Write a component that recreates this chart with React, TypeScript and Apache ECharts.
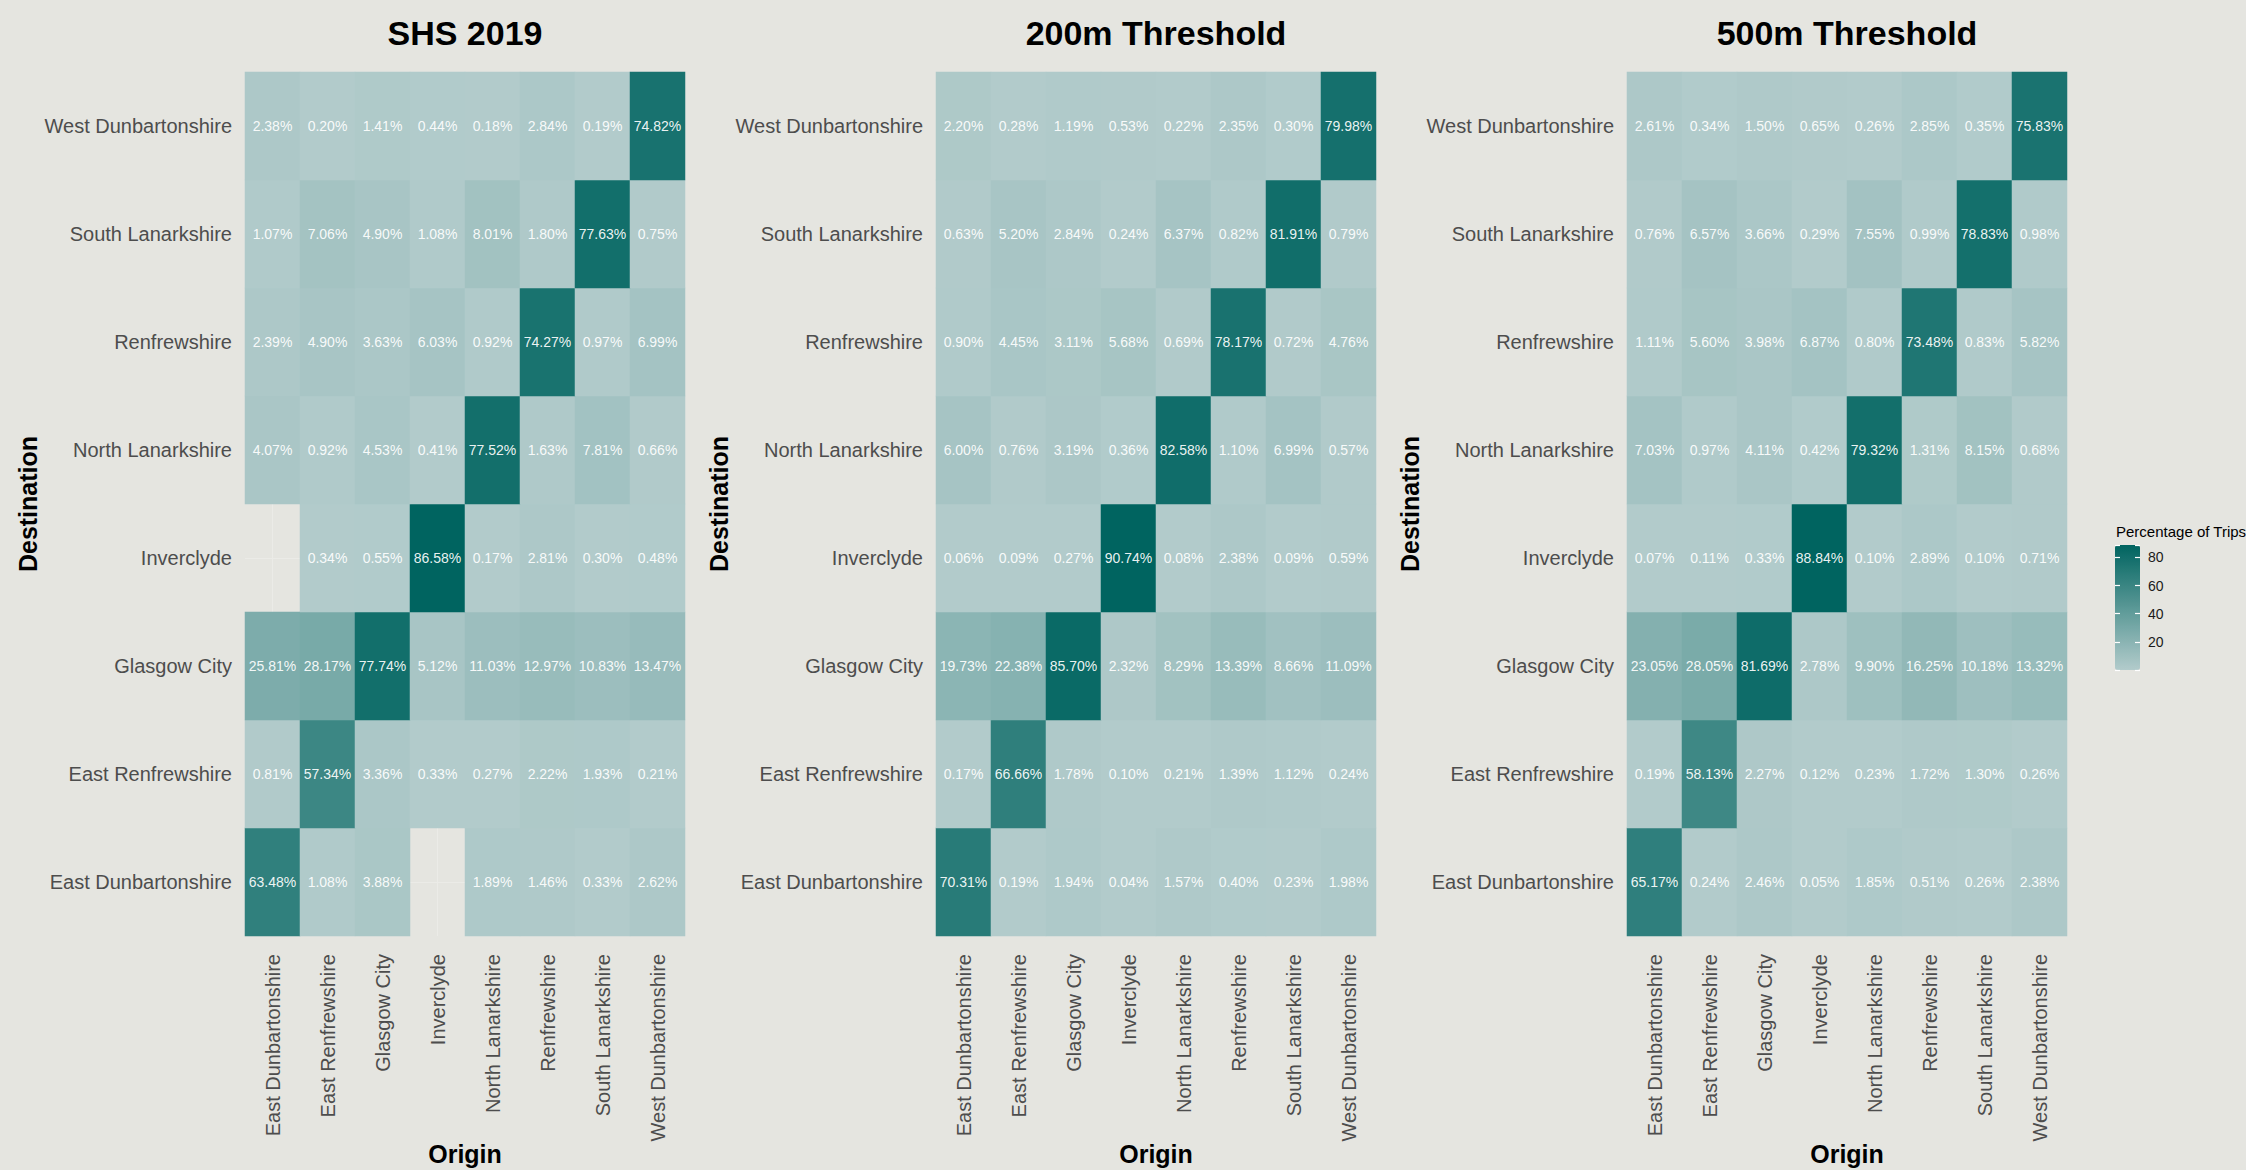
import React, { useEffect, useRef } from "react";
import * as echarts from "echarts";

const regions = [
  "East Dunbartonshire",
  "East Renfrewshire",
  "Glasgow City",
  "Inverclyde",
  "North Lanarkshire",
  "Renfrewshire",
  "South Lanarkshire",
  "West Dunbartonshire",
];

const panelTitles = ["SHS 2019", "200m Threshold", "500m Threshold"];

// rows = destination (bottom to top, same order as regions), columns = origin
const shs2019: (number | null)[][] = [
  [63.48, 1.08, 3.88, null, 1.89, 1.46, 0.33, 2.62],
  [0.81, 57.34, 3.36, 0.33, 0.27, 2.22, 1.93, 0.21],
  [25.81, 28.17, 77.74, 5.12, 11.03, 12.97, 10.83, 13.47],
  [null, 0.34, 0.55, 86.58, 0.17, 2.81, 0.3, 0.48],
  [4.07, 0.92, 4.53, 0.41, 77.52, 1.63, 7.81, 0.66],
  [2.39, 4.9, 3.63, 6.03, 0.92, 74.27, 0.97, 6.99],
  [1.07, 7.06, 4.9, 1.08, 8.01, 1.8, 77.63, 0.75],
  [2.38, 0.2, 1.41, 0.44, 0.18, 2.84, 0.19, 74.82],
];

const threshold200: (number | null)[][] = [
  [70.31, 0.19, 1.94, 0.04, 1.57, 0.4, 0.23, 1.98],
  [0.17, 66.66, 1.78, 0.1, 0.21, 1.39, 1.12, 0.24],
  [19.73, 22.38, 85.7, 2.32, 8.29, 13.39, 8.66, 11.09],
  [0.06, 0.09, 0.27, 90.74, 0.08, 2.38, 0.09, 0.59],
  [6.0, 0.76, 3.19, 0.36, 82.58, 1.1, 6.99, 0.57],
  [0.9, 4.45, 3.11, 5.68, 0.69, 78.17, 0.72, 4.76],
  [0.63, 5.2, 2.84, 0.24, 6.37, 0.82, 81.91, 0.79],
  [2.2, 0.28, 1.19, 0.53, 0.22, 2.35, 0.3, 79.98],
];

const threshold500: (number | null)[][] = [
  [65.17, 0.24, 2.46, 0.05, 1.85, 0.51, 0.26, 2.38],
  [0.19, 58.13, 2.27, 0.12, 0.23, 1.72, 1.3, 0.26],
  [23.05, 28.05, 81.69, 2.78, 9.9, 16.25, 10.18, 13.32],
  [0.07, 0.11, 0.33, 88.84, 0.1, 2.89, 0.1, 0.71],
  [7.03, 0.97, 4.11, 0.42, 79.32, 1.31, 8.15, 0.68],
  [1.11, 5.6, 3.98, 6.87, 0.8, 73.48, 0.83, 5.82],
  [0.76, 6.57, 3.66, 0.29, 7.55, 0.99, 78.83, 0.98],
  [2.61, 0.34, 1.5, 0.65, 0.26, 2.85, 0.35, 75.83],
];

const legendTicks = [20, 40, 60, 80];

const panels = [shs2019, threshold200, threshold500];

const FONT = "'Liberation Sans', Arial, Helvetica, sans-serif";
const BG = "#e5e5e0";
const LOW = "#b2cbcb";
const HIGH = "#006460";
const GRIDLINE = "#ebebe7";

const gridLefts = [245, 936, 1627];
const GRID_TOP = 72;
const GRID_W = 440;
const GRID_H = 864;

function App() {
  const ref = useRef<HTMLDivElement>(null);

  useEffect(() => {
    document.body.style.margin = "0";
    document.body.style.overflow = "hidden";
    if (!ref.current) return;
    const chart = echarts.init(ref.current, undefined, { renderer: "svg" });

    const grids: any[] = [];
    const xAxes: any[] = [];
    const yAxes: any[] = [];
    const series: any[] = [];
    const visualMaps: any[] = [];
    const graphics: any[] = [];

    panels.forEach((m, i) => {
      const data: any[] = [];
      let mn = Infinity;
      let mx = -Infinity;
      m.forEach((row, yi) =>
        row.forEach((v, xi) => {
          if (v === null) return;
          data.push([xi, yi, v]);
          mn = Math.min(mn, v);
          mx = Math.max(mx, v);
        })
      );
      grids.push({
        left: gridLefts[i],
        top: GRID_TOP,
        width: GRID_W,
        height: GRID_H,
        show: false,
        containLabel: false,
        outerBoundsMode: "none",
      });
      xAxes.push({
        type: "category",
        gridIndex: i,
        data: regions,
        name: "Origin",
        nameLocation: "middle",
        nameGap: 205,
        nameMoveOverlap: false,
        nameTextStyle: { fontFamily: FONT, fontSize: 25, fontWeight: "bold", color: "#000" },
        axisLine: { show: false },
        axisTick: { show: false, alignWithLabel: true },
        splitLine: { show: true, alignWithLabel: true, lineStyle: { color: GRIDLINE, width: 1 } },
        axisLabel: {
          rotate: 90,
          interval: 0,
          margin: 18,
          fontFamily: FONT,
          fontSize: 20,
          color: "#4d4d4d",
        },
      });
      yAxes.push({
        type: "category",
        gridIndex: i,
        data: regions,
        name: "Destination",
        nameLocation: "middle",
        nameGap: 205,
        nameRotate: 90,
        nameTextStyle: { fontFamily: FONT, fontSize: 25, fontWeight: "bold", color: "#000" },
        axisLine: { show: false },
        axisTick: { show: false, alignWithLabel: true },
        splitLine: { show: true, alignWithLabel: true, lineStyle: { color: GRIDLINE, width: 1 } },
        axisLabel: {
          interval: 0,
          margin: 13,
          fontFamily: FONT,
          fontSize: 20,
          color: "#4d4d4d",
        },
      });
      series.push({
        type: "heatmap",
        xAxisIndex: i,
        yAxisIndex: i,
        data,
        label: {
          show: true,
          fontFamily: FONT,
          fontSize: 14,
          color: "rgba(255,255,255,0.93)",
          formatter: (p: any) => p.value[2].toFixed(2) + "%",
        },
        itemStyle: { borderWidth: 0 },
        emphasis: { disabled: true },
      });
      visualMaps.push({
        type: "continuous",
        seriesIndex: i,
        min: mn,
        max: mx,
        dimension: 2,
        show: i === 2,
        calculable: false,
        left: 2115,
        top: 545,
        padding: 0,
        itemWidth: 25,
        itemHeight: 125,
        text: null,
        inRange: { color: [LOW, HIGH] },
        hoverLink: false,
      });
      graphics.push({
        type: "text",
        x: gridLefts[i] + GRID_W / 2,
        y: 33,
        style: {
          text: panelTitles[i],
          align: "center",
          verticalAlign: "middle",
          font: `bold 34px ${FONT}`,
          fill: "#000",
        },
      });
    });

    // legend axis overlay (grid 3)
    const legendVals = threshold500.flat().filter((v): v is number => v !== null);
    const legendMin = Math.min(...legendVals);
    const legendMax = Math.max(...legendVals);
    grids.push({
      left: 2115,
      top: 545,
      width: 25,
      height: 125,
      show: false,
      containLabel: false,
      outerBoundsMode: "none",
    });
    xAxes.push({ type: "value", gridIndex: 3, show: false, min: 0, max: 1 });
    const legendAxisBase = {
      type: "value",
      gridIndex: 3,
      min: 0,
      max: legendMax,
      interval: 20,
      z: 10,
      axisLine: { show: false },
      axisTick: { show: true, inside: true, length: 5, lineStyle: { color: "#ffffff", width: 1.2 } },
      splitLine: { show: false },
    };
    yAxes.push({ ...legendAxisBase, position: "left", axisLabel: { show: false } });
    yAxes.push({
      ...legendAxisBase,
      position: "right",
      axisLabel: {
        show: true,
        margin: 8,
        fontFamily: FONT,
        fontSize: 14,
        color: "#1a1a1a",
        formatter: (v: number) => (legendTicks.includes(v) && v > legendMin ? String(v) : ""),
      },
    });
    graphics.push({
      type: "text",
      x: 2116,
      y: 531,
      style: {
        text: "Percentage of Trips",
        align: "left",
        verticalAlign: "middle",
        font: `15px ${FONT}`,
        fill: "#000",
      },
    });

    chart.setOption({
      animation: false,
      backgroundColor: BG,
      grid: grids,
      xAxis: xAxes,
      yAxis: yAxes,
      visualMap: visualMaps,
      series,
      graphic: graphics,
    });

    return () => chart.dispose();
  }, []);

  return (
    <div
      ref={ref}
      style={{ position: "fixed", left: 0, top: 0, width: 2246, height: 1170 }}
    />
  );
}

export default App;
